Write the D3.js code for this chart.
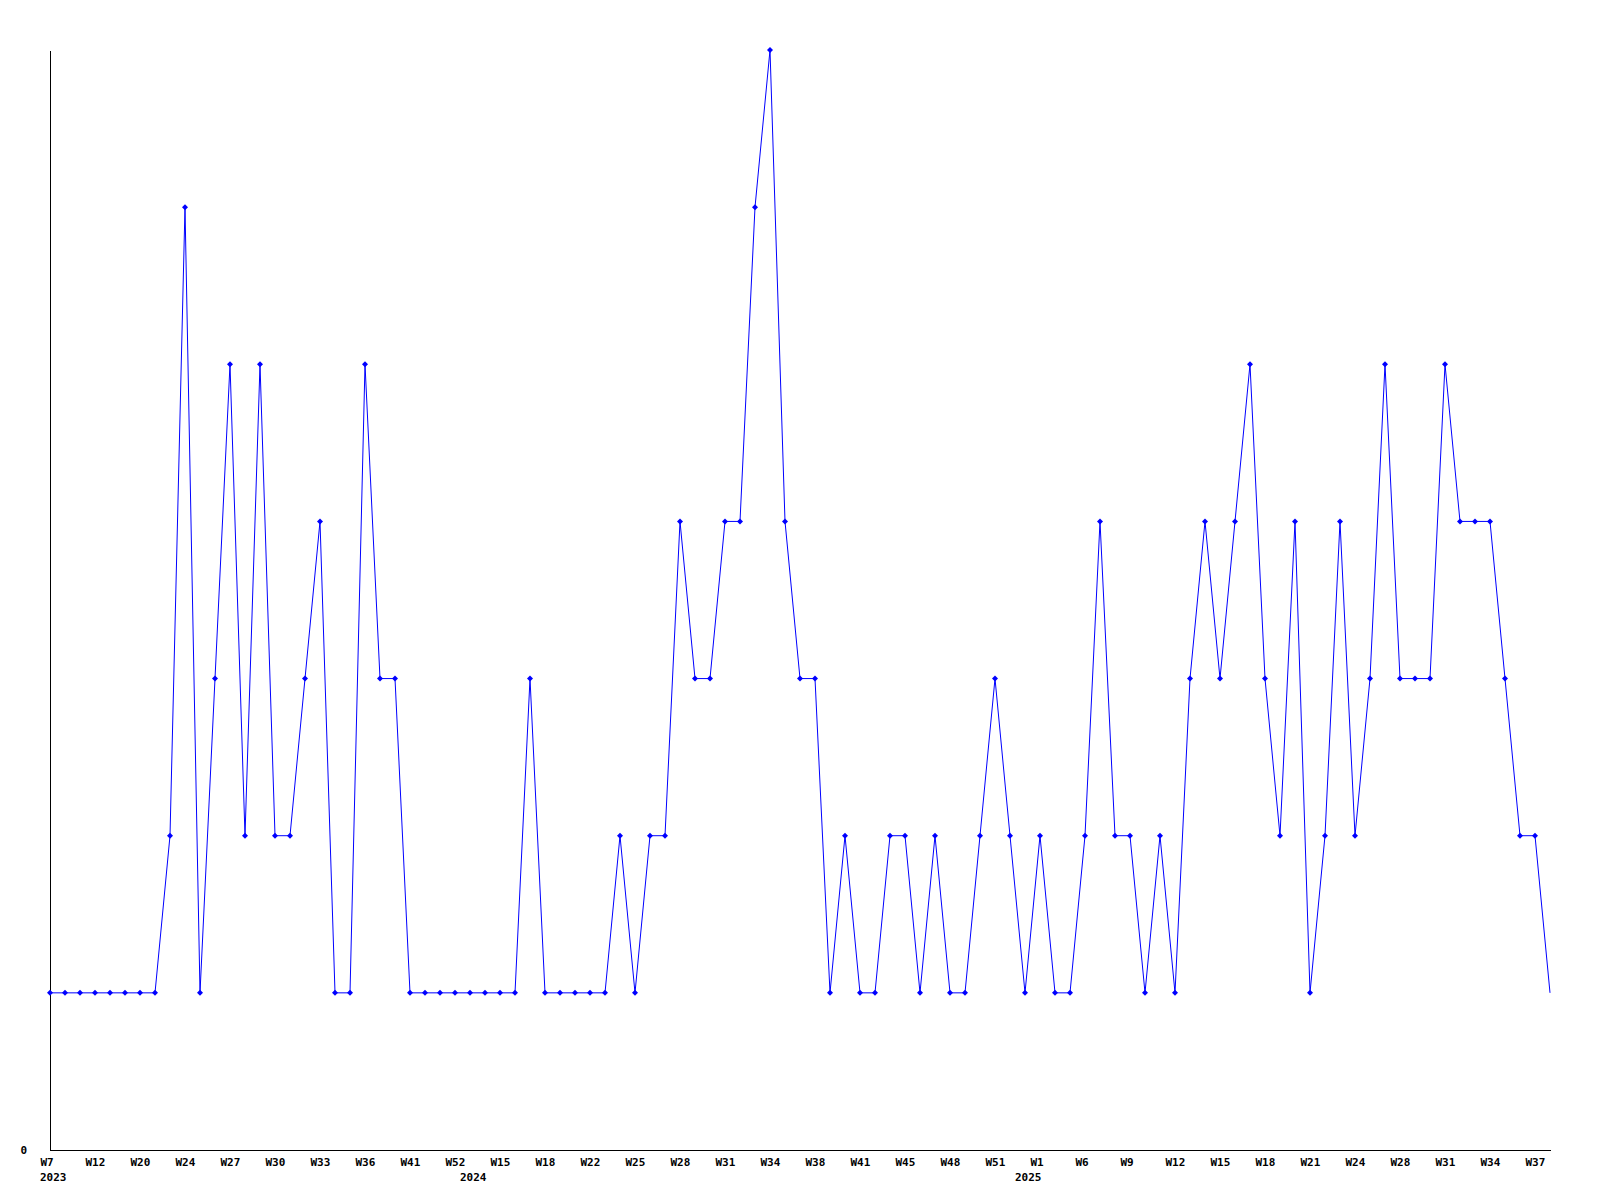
<!DOCTYPE html>
<html>
<head>
<meta charset="utf-8">
<script src="https://cdn.jsdelivr.net/npm/d3@7"></script>
<style>
  body { margin: 0; background: #fff; }
  svg { display: block; }
  .axis text { font-family: "DejaVu Sans Mono", monospace; font-weight: bold; font-size: 11px; fill: #000; }
  .axis path { stroke: #000; shape-rendering: crispEdges; }
</style>
</head>
<body>
<svg></svg>
<script>
// weekly values, one per data point
const values = [
  1, 1, 1, 1, 1, 1, 1, 1, 2, 6,
  1, 3, 5, 2, 5, 2, 2, 3, 4, 1,
  1, 5, 3, 3, 1, 1, 1, 1, 1, 1,
  1, 1, 3, 1, 1, 1, 1, 1, 2, 1,
  2, 2, 4, 3, 3, 4, 4, 6, 7, 4,
  3, 3, 1, 2, 1, 1, 2, 2, 1, 2,
  1, 1, 2, 3, 2, 1, 2, 1, 1, 2,
  4, 2, 2, 1, 2, 1, 3, 4, 3, 4,
  5, 3, 2, 4, 1, 2, 4, 2, 3, 5,
  3, 3, 3, 5, 4, 4, 4, 3, 2, 2,
  1
];

// which points carry a week label (every third one)
const tickIdx = d3.range(0, values.length, 3);
const tickLabels = ["W7", "W12", "W20", "W24", "W27", "W30", "W33", "W36", "W41", "W52",
  "W15", "W18", "W22", "W25", "W28", "W31", "W34", "W38", "W41", "W45",
  "W48", "W51", "W1", "W6", "W9", "W12", "W15", "W18", "W21", "W24",
  "W28", "W31", "W34", "W37"];

// first point of each year
const yearIdx = [0, 28, 65];
const yearLabels = ["2023", "2024", "2025"];

const width = 1600;
const height = 1200;
const margin = { top: 50, right: 50, bottom: 50, left: 50 };

const svg = d3.select("svg")
  .attr("width", width)
  .attr("height", height);

const x = d3.scaleLinear()
  .domain([0, values.length - 1])
  .range([margin.left, width - margin.right]);

const y = d3.scaleLinear()
  .domain([0, 7])
  .range([height - margin.bottom, margin.top]);

// x axis with week labels (left aligned, a bit before the point)
const labelOf = new Map(tickIdx.map((d, i) => [d, tickLabels[i]]));
const xAxis = svg.append("g")
  .attr("class", "axis")
  .attr("transform", `translate(0,${height - margin.bottom})`)
  .call(d3.axisBottom(x)
    .tickValues(tickIdx)
    .tickFormat(d => labelOf.get(d))
    .tickSize(0)
    .tickSizeOuter(0)
    .tickPadding(8));
xAxis.selectAll("text")
  .attr("text-anchor", "start")
  .attr("dx", -10);

// year row
xAxis.selectAll(".year")
  .data(yearIdx)
  .enter().append("text")
  .attr("class", "year")
  .attr("x", d => x(d) - 10)
  .attr("y", 31)
  .attr("text-anchor", "start")
  .text((d, i) => yearLabels[i]);

// y axis, only the zero label
svg.append("g")
  .attr("class", "axis")
  .attr("transform", `translate(${margin.left},0)`)
  .call(d3.axisLeft(y)
    .tickValues([0])
    .tickFormat(d3.format("d"))
    .tickSize(0)
    .tickSizeOuter(0)
    .tickPadding(23));

// the line
const line = d3.line()
  .x((d, i) => x(i))
  .y(d => y(d));

svg.append("path")
  .datum(values)
  .attr("fill", "none")
  .attr("stroke", "#0000ff")
  .attr("stroke-width", 1)
  .attr("d", line);

// small diamond markers (the last point has none)
svg.selectAll(".mark")
  .data(values.slice(0, -1))
  .enter().append("path")
  .attr("class", "mark")
  .attr("transform", (d, i) => `translate(${x(i)},${y(d)})`)
  .attr("d", "M0,-3L3,0L0,3L-3,0Z")
  .attr("fill", "#0000ff");
</script>
</body>
</html>
